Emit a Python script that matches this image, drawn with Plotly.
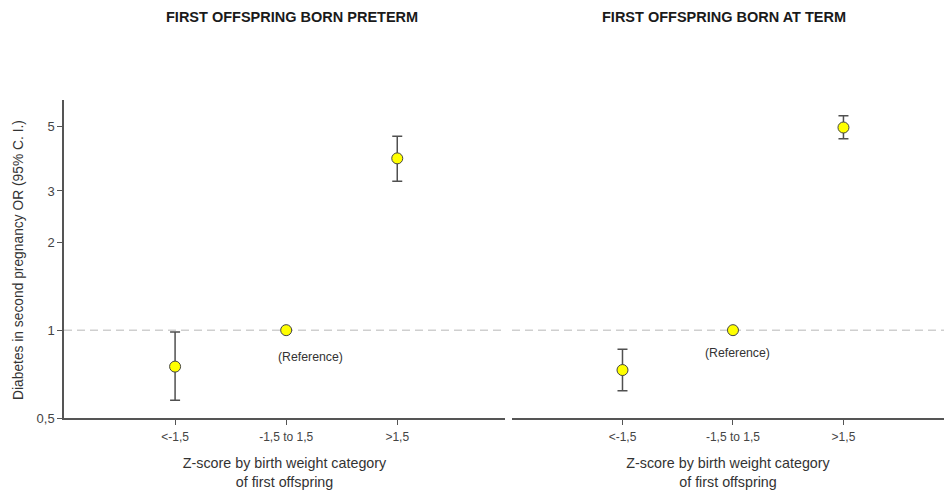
import math
import plotly.graph_objects as go

categories = ["<-1,5", "-1,5 to 1,5", ">1,5"]
cat_pos = [0, 1, 2]

preterm_or = [0.75, 1.0, 3.88]
preterm_lo = [0.575, None, 3.24]
preterm_hi = [0.985, None, 4.62]

term_or = [0.73, 1.0, 4.95]
term_lo = [0.62, None, 4.53]
term_hi = [0.86, None, 5.43]

y_ticks = [0.5, 1, 2, 3, 5]
y_ticktext = ["0,5", "1", "2", "3", "5"]
ref_value = 1.0

titles = ["FIRST OFFSPRING BORN PRETERM", "FIRST OFFSPRING BORN AT TERM"]
x_title = "Z-score by birth weight category<br>of first offspring"
y_title = "Diabetes in second pregnancy OR (95% C. I.)"

FONT = "Liberation Sans, Arial, sans-serif"
W, H = 944, 491


def errs(vals, lo, hi):
    up = [(h - v) if h is not None else float("nan") for v, h in zip(vals, hi)]
    dn = [(v - l) if l is not None else float("nan") for v, l in zip(vals, lo)]
    return up, dn


fig = go.Figure()

panels = [
    ("x", "y", preterm_or, preterm_lo, preterm_hi, [-1, 2.97]),
    ("x2", "y2", term_or, term_lo, term_hi, [-1, 2.91]),
]

for xa, ya, vals, lo, hi, rng in panels:
    # reference dashed line at OR = 1
    fig.add_trace(go.Scatter(
        x=rng, y=[ref_value, ref_value], mode="lines", xaxis=xa, yaxis=ya,
        line=dict(color="#cfcfcf", width=1.5, dash="8px,5px"),
        hoverinfo="skip", showlegend=False, cliponaxis=False))
    up, dn = errs(vals, lo, hi)
    fig.add_trace(go.Scatter(
        x=cat_pos, y=vals, mode="markers", xaxis=xa, yaxis=ya,
        marker=dict(size=11, color="#ffff00", line=dict(color="#444444", width=1)),
        error_y=dict(type="data", symmetric=False, array=up, arrayminus=dn,
                     color="#505050", thickness=1.5, width=5),
        showlegend=False, cliponaxis=False))

axis_common = dict(
    showgrid=False, zeroline=False, linecolor="#555555", linewidth=1.5,
    ticks="outside", ticklen=5, tickcolor="#555555", tickwidth=1,
    automargin=False,
)

ylo = math.log10(0.5)
yhi = math.log10(6.15)
ydom = [(H - 418) / H, (H - 100) / H]
xtitle_font = dict(family=FONT, size=14.3, color="#333333")

fig.update_layout(
    width=W, height=H, autosize=False,
    margin=dict(l=0, r=0, t=0, b=0, autoexpand=False),
    paper_bgcolor="white", plot_bgcolor="white",
    font=dict(family=FONT, color="#333333"),
    xaxis=dict(domain=[64 / W, 505 / W], range=[-1, 2.97], tickvals=cat_pos,
               ticktext=categories, showline=True, anchor="y",
               ticklabelstandoff=2,
               tickfont=dict(family=FONT, size=12, color="#444444"),
               title=dict(text=x_title, font=xtitle_font, standoff=15),
               **axis_common),
    yaxis=dict(domain=ydom, type="log", range=[ylo, yhi], tickvals=y_ticks,
               ticktext=y_ticktext, showline=True, anchor="x",
               tickfont=dict(family=FONT, size=13, color="#444444"),
               **axis_common),
    xaxis2=dict(domain=[512 / W, 1.0], range=[-1, 2.91], tickvals=cat_pos,
                ticktext=categories, showline=True, anchor="y2",
                ticklabelstandoff=2,
                tickfont=dict(family=FONT, size=12, color="#444444"),
                title=dict(text=x_title, font=xtitle_font, standoff=15),
                **axis_common),
    yaxis2=dict(domain=ydom, type="log", range=[ylo, yhi], showline=False,
                showticklabels=False, ticks="", showgrid=False, zeroline=False,
                anchor="x2", automargin=False),
)

# Panel titles
for t, cx in zip(titles, [292, 724]):
    fig.add_annotation(text="<b>" + t + "</b>", xref="paper", yref="paper",
                       x=cx / W, y=(H - 17) / H, xanchor="center", yanchor="middle",
                       showarrow=False,
                       font=dict(family=FONT, size=14.5, color="#1a1a1a"))

# Y axis title
fig.add_annotation(text=y_title, xref="paper", yref="paper", x=18 / W,
                   y=(H - 260) / H, xanchor="center", yanchor="middle",
                   textangle=-90, showarrow=False,
                   font=dict(family=FONT, size=13.8, color="#333333"))

# "(Reference)" labels
fig.add_annotation(text="(Reference)", xref="x", yref="y", x=1,
                   y=math.log10(ref_value), xshift=24, yshift=-27, showarrow=False,
                   font=dict(family=FONT, size=12.3, color="#333333"))
fig.add_annotation(text="(Reference)", xref="x2", yref="y2", x=1,
                   y=math.log10(ref_value), xshift=5, yshift=-23, showarrow=False,
                   font=dict(family=FONT, size=12.3, color="#333333"))

fig.write_html("out.html",
               config={"displayModeBar": False, "responsive": False},
               post_script="document.body.style.margin='0';")
